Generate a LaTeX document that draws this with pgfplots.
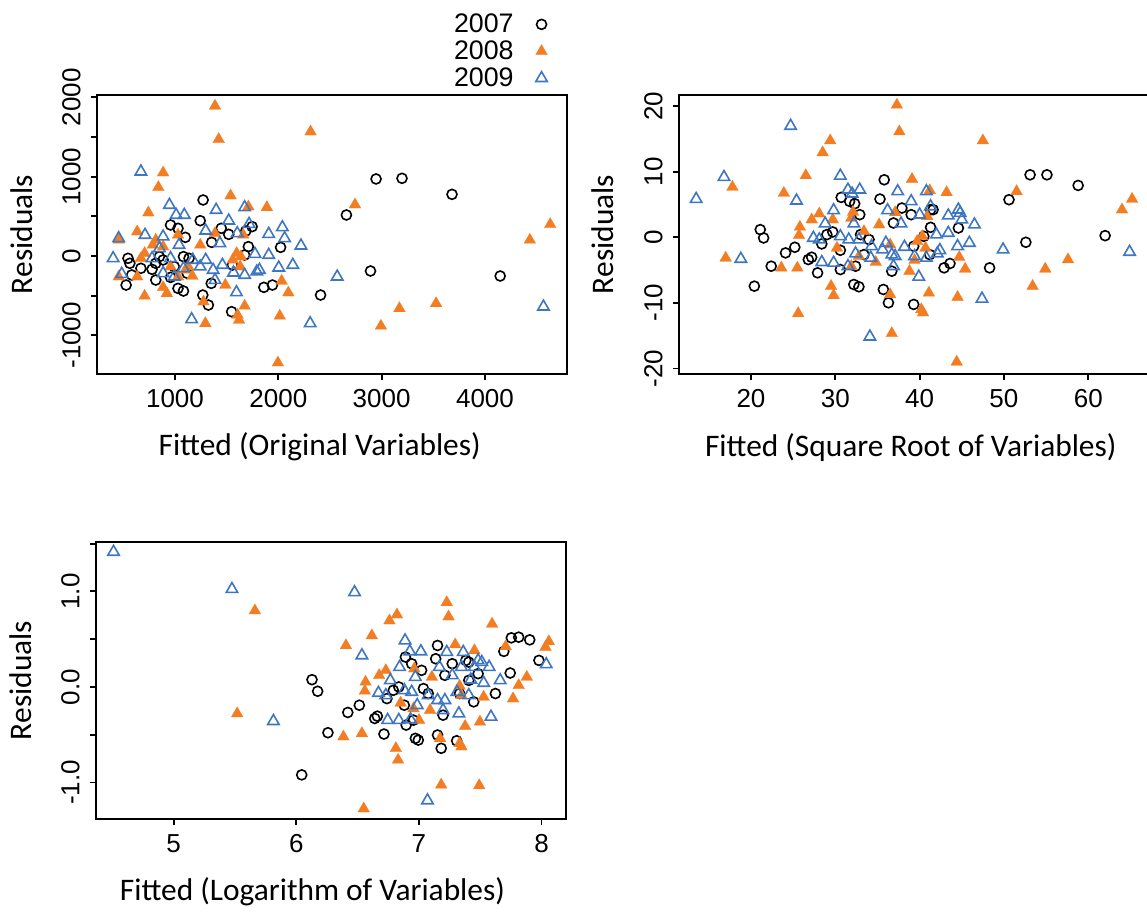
\documentclass[border=0pt]{standalone}
\usepackage{pgfplots}
\pgfplotsset{compat=1.18}
\usepackage{fontspec}
\setmainfont{Carlito}
\newfontfamily\arialf{Liberation Sans}
\definecolor{cor}{RGB}{243,125,34}
\definecolor{cbl}{RGB}{62,118,193}
\pgfplotsset{
  resid/.style={
    scale only axis,
    anchor=south west,
    tick align=outside,
    xtick pos=left, ytick pos=left,
    major tick length=3pt,
    tick style={black, line width=0.9pt},
    axis line style={line width=1pt},
    /pgf/number format/assume math mode=true,
    ticklabel style={font=\arialf\fontsize{13}{15}\selectfont},
    yticklabel style={rotate=90, anchor=base},
    yticklabel shift=5.5pt,
    xticklabel style={anchor=base, yshift=-13.5pt},
    label style={font=\fontsize{15.7}{18}\selectfont},
    ylabel={Residuals},
    every axis plot/.append style={only marks},
  },
  s07/.style={mark=o, mark size=2.5pt, black, line width=0.8pt},
  s08/.style={mark=triangle*, mark size=3.4pt, cor, mark options={fill=cor, draw=cor, line width=0.1pt}},
  s09/.style={mark=triangle, mark size=3.3pt, cbl, line width=0.8pt},
}
\begin{document}
\begin{tikzpicture}
% ---------------- Panel 1 ----------------
\begin{axis}[resid,
  at={(48.65pt,269pt)}, width=234.6pt, height=139.5pt,
  xmin=248, xmax=4789, ymin=-1487, ymax=2029,
  xtick={1000,2000,3000,4000}, xticklabels={1000,2000,3000,4000},
  ytick={-1000,-500,0,500,1000,1500,2000},
  yticklabels={-1000,{},0,{},1000,{},2000},
  xlabel={Fitted (Original Variables)},
  xlabel style={at={(axis description cs:0.474,-0.262)}, anchor=center},
  ylabel style={at={(axis description cs:-0.162,0.5)}, anchor=center},
  legend plot pos=right,
  legend style={draw=none, fill=none, at={(0.973,1.315)}, anchor=north east,
    font=\arialf\fontsize{13.4}{15}\selectfont, legend cell align=right,
    nodes={inner sep=1pt}, row sep=0.6pt, column sep=10pt},
]
\addplot[s07] coordinates {
(1272,706) (1244,445) (957,391) (1029,349) (1100,235) (1448,349) (1520,273)
(1355,172) (1710,118) (1746,370) (1685,315) (2022,109) (1674,13) (1556,-113)
(1136,-29) (1082,-8) (849,-8) (814,-92) (778,-168) (670,-155) (563,-92)
(545,-29) (581,-239) (527,-366) (814,-303) (957,-269) (1029,-408) (1082,-441)
(1351,-345) (1269,-492) (1323,-618) (1548,-702) (1860,-395) (1943,-366)
(2409,-492) (2659,517) (2946,971) (3197,979) (3681,777) (2892,-189)
(4147,-252) (885,-50) (993,-134) (1118,-218)
};
\addlegendentry{2007}
\addplot[s08] coordinates {
(1387,1891) (1423,1471) (2312,1567) (885,1050) (839,866) (742,546) (1538,761)
(1710,622) (1889,613) (2742,647) (634,307) (455,202) (1029,265) (1244,139)
(1387,286) (4434,202) (4631,399) (706,34) (814,202) (885,118) (785,139)
(670,-29) (455,-261) (634,-261) (706,-504) (885,-395) (921,-471) (957,-134)
(1168,-252) (1276,-576) (1294,-849) (1487,-366) (1559,-50) (1631,-134)
(1606,-744) (1620,-807) (1674,-630) (2032,-315) (2097,-462) (2014,-756)
(1996,-1345) (2993,-882) (3172,-660) (3527,-597) (1638,-8) (1100,-176)
(1029,-261) (1661,265) (1597,34) (1129,-135)
};
\addlegendentry{2008}
\addplot[s09] coordinates {
(670,1063) (946,643) (1011,517) (1090,517) (1398,580) (1674,613) (1520,445)
(1297,319) (1602,286) (1717,403) (1907,277) (2039,361) (2061,223) (2219,130)
(455,223) (710,265) (885,244) (1039,139) (1434,160) (1774,25) (1907,13)
(401,-29) (484,-227) (778,-29) (849,97) (957,-29) (885,-218) (993,-261)
(1082,-155) (1172,-50) (1244,-134) (1297,-50) (1369,-176) (1459,-113)
(1566,-210) (1674,-239) (1817,-176) (2004,-147) (2140,-113) (1595,-458)
(1161,-798) (2308,-849) (2570,-261) (4566,-639) (1387,-303) (1792,-197)
};
\addlegendentry{2009}
\end{axis}
% ---------------- Panel 2 ----------------
\begin{axis}[resid,
  at={(339.65pt,269pt)}, width=235.25pt, height=139.5pt,
  xmin=11.5, xmax=67.3, ymin=-20.85, ymax=21.7,
  xtick={20,30,40,50,60}, xticklabels={20,30,40,50,60},
  ytick={-20,-10,0,10,20}, yticklabels={-20,-10,0,10,20},
  xlabel={Fitted (Square Root of Variables)},
  xlabel style={at={(axis description cs:0.492,-0.262)}, anchor=center},
  ylabel style={at={(axis description cs:-0.162,0.5)}, anchor=center},
]
\addplot[s07] coordinates {
(20.4,-7.45) (21.1,1.17) (21.5,-0.1) (22.4,-4.41) (24.1,-2.38) (25.2,-1.52)
(26.8,-3.40) (27.2,-3.04) (27.9,-5.42) (28.4,-1.01) (29.0,0.41) (29.7,0.81)
(30.6,-1.98) (30.6,-4.92) (30.7,6.08) (31.7,5.48) (32.3,5.12) (32.9,3.45)
(33.0,0.41) (34.0,-0.35) (32.2,-7.20) (32.8,-7.55) (32.4,-4.41) (33.4,-2.64)
(35.3,5.83) (35.8,8.77) (35.7,-7.96) (36.3,-9.99) (36.7,-5.17) (36.9,2.18)
(37.9,4.46) (39.0,3.45) (39.3,-10.24) (39.3,-1.37) (40.5,0.15) (41.3,1.52)
(41.3,4.21) (41.6,4.21) (41.2,-2.64) (42.9,-4.66) (43.6,-4.0) (44.6,1.42)
(48.3,-4.66) (50.6,5.73) (52.6,-0.76) (53.1,9.53) (55.1,9.53) (58.8,7.91)
(62.0,0.25)
};
\addplot[s08] coordinates {
(37.3,20.18) (37.6,16.12) (29.4,14.75) (28.5,12.93) (47.5,14.75) (26.5,9.43)
(39.1,8.87) (17.8,7.66) (23.9,6.74) (41.2,7.15) (43.2,6.84) (51.5,7.0)
(64.0,4.21) (65.2,5.83) (28.1,3.60) (27.2,2.69) (25.8,1.57) (25.7,0.30)
(29.7,2.69) (32.1,3.85) (31.9,2.94) (33.4,0.91) (35.2,1.93) (37.1,3.80)
(30.2,-1.62) (36.5,-1.12) (39.7,-0.61) (40.3,0.15) (40.7,-1.62) (40.9,3.19)
(17.0,-3.14) (23.6,-4.66) (25.5,-4.66) (29.5,-7.45) (29.8,-8.87) (25.6,-11.61)
(31.9,-4.41) (32.8,-2.89) (34.8,-3.80) (38.8,-5.17) (39.4,-3.50) (36.5,-8.72)
(36.7,-14.65) (41.1,-8.47) (40.2,-11.0) (40.4,-11.5) (44.5,-9.13) (44.7,-3.04)
(45.4,-4.82) (44.4,-19.01) (53.4,-7.45) (54.9,-4.82) (57.6,-3.40)
};
\addplot[s09] coordinates {
(13.5,5.83) (16.8,9.18) (18.8,-3.30) (24.7,16.98) (25.4,5.58) (30.6,9.38)
(31.5,7.25) (32.9,7.25) (32.0,6.64) (29.8,4.11) (28.8,2.08) (27.4,-0.1)
(28.1,-0.35) (28.4,-3.80) (29.8,-3.90) (30.6,0.15) (31.6,-0.35) (32.2,2.08)
(32.8,-0.35) (31.5,-4.41) (32.4,-2.48) (34.3,-1.37) (34.2,-3.14) (34.1,-15.16)
(35.6,-1.88) (36.0,-0.86) (36.2,4.11) (36.7,-2.64) (37.1,-2.89) (36.9,-4.41)
(37.4,7.0) (37.8,2.08) (38.2,-1.47) (39.0,5.48) (39.4,-2.89) (39.9,-6.03)
(40.0,3.45) (40.8,7.0) (41.3,4.71) (40.8,-3.14) (42.0,0.41) (42.4,-1.98)
(42.1,-2.48) (43.4,3.30) (43.4,0.66) (44.6,4.21) (44.8,3.70) (45.0,2.69)
(44.5,-1.37) (45.9,-0.86) (46.5,1.93) (47.4,-9.38) (49.9,-1.88) (64.9,-2.23)
};
\end{axis}
% ---------------- Panel 3 ----------------
\begin{axis}[resid,
  at={(48.25pt,46.35pt)}, width=234.75pt, height=138.8pt,
  xmin=4.37, xmax=8.2, ymin=-1.385, ymax=1.52,
  xtick={5,6,7,8}, xticklabels={5,6,7,8},
  ytick={-1,-0.5,0,0.5,1,1.5}, yticklabels={-1.0,{},0.0,{},1.0,{}},
  xlabel={Fitted (Logarithm of Variables)},
  xlabel style={at={(axis description cs:0.46,-0.262)}, anchor=center},
  ylabel style={at={(axis description cs:-0.162,0.5)}, anchor=center},
]
\addplot[s07] coordinates {
(6.044,-0.920) (6.128,0.076) (6.174,-0.045) (6.258,-0.479) (6.420,-0.267)
(6.514,-0.191) (6.640,-0.330) (6.661,-0.306) (6.715,-0.493) (6.739,-0.122)
(6.791,-0.035) (6.836,0.0) (6.881,-0.191) (6.890,0.313) (6.896,-0.399)
(6.941,0.243) (6.956,-0.347) (6.971,-0.538) (6.995,-0.556) (7.022,0.174)
(7.037,-0.017) (7.076,-0.069) (7.137,0.295) (7.152,0.434) (7.152,-0.503)
(7.182,-0.642) (7.197,-0.295) (7.212,0.122) (7.272,0.243) (7.308,-0.563)
(7.332,-0.069) (7.383,0.278) (7.407,0.069) (7.447,-0.156) (7.483,0.139)
(7.624,-0.069) (7.693,0.372) (7.745,0.146) (7.754,0.514) (7.814,0.521)
(7.904,0.493) (7.979,0.278) (7.407,0.260)
};
\addplot[s08] coordinates {
(5.518,-0.278) (5.662,0.799) (6.405,0.434) (6.616,0.538) (6.565,0.052)
(6.559,-0.042) (6.676,0.122) (6.730,0.174) (6.760,0.694) (6.821,0.757)
(6.384,-0.521) (6.535,-0.486) (6.812,-0.642) (6.830,-0.764) (6.550,-1.274)
(6.851,-0.167) (6.962,0.191) (7.091,-0.243) (7.173,-0.538) (7.182,-1.024)
(7.227,0.885) (7.242,0.736) (7.296,0.444) (7.332,0.010) (7.347,-0.087)
(7.332,-0.590) (7.347,-0.625) (7.377,-0.410) (7.453,0.382) (7.498,-0.365)
(7.492,-1.031) (7.528,-0.104) (7.597,0.660) (7.708,0.424) (7.768,-0.122)
(7.814,0.017) (7.880,0.104) (8.033,0.417) (8.060,0.476) (6.956,-0.226)
(7.106,0.104) (7.001,-0.347)
};
\addplot[s09] coordinates {
(4.509,1.413) (5.475,1.024) (5.813,-0.358) (6.475,0.990) (6.535,0.330)
(6.887,0.486) (6.926,0.372) (7.016,0.372) (6.842,0.208) (6.971,0.104)
(6.767,0.069) (6.670,-0.063) (6.730,-0.087) (6.745,-0.347) (6.836,-0.347)
(6.881,-0.035) (6.941,-0.052) (6.932,-0.340) (6.986,-0.191) (7.070,-1.188)
(7.076,-0.087) (7.152,-0.139) (7.167,0.208) (7.197,-0.243) (7.212,-0.139)
(7.227,0.365) (7.272,0.122) (7.311,-0.052) (7.326,-0.278) (7.362,0.365)
(7.347,0.208) (7.407,-0.087) (7.423,0.076) (7.453,0.208) (7.483,0.278)
(7.513,0.260) (7.528,0.042) (7.573,0.208) (7.588,-0.313) (7.663,0.069)
(8.039,0.236)
};
\end{axis}
\pgfresetboundingbox
\useasboundingbox (0,0) rectangle (573.5pt,456pt);
\end{tikzpicture}
\end{document}
